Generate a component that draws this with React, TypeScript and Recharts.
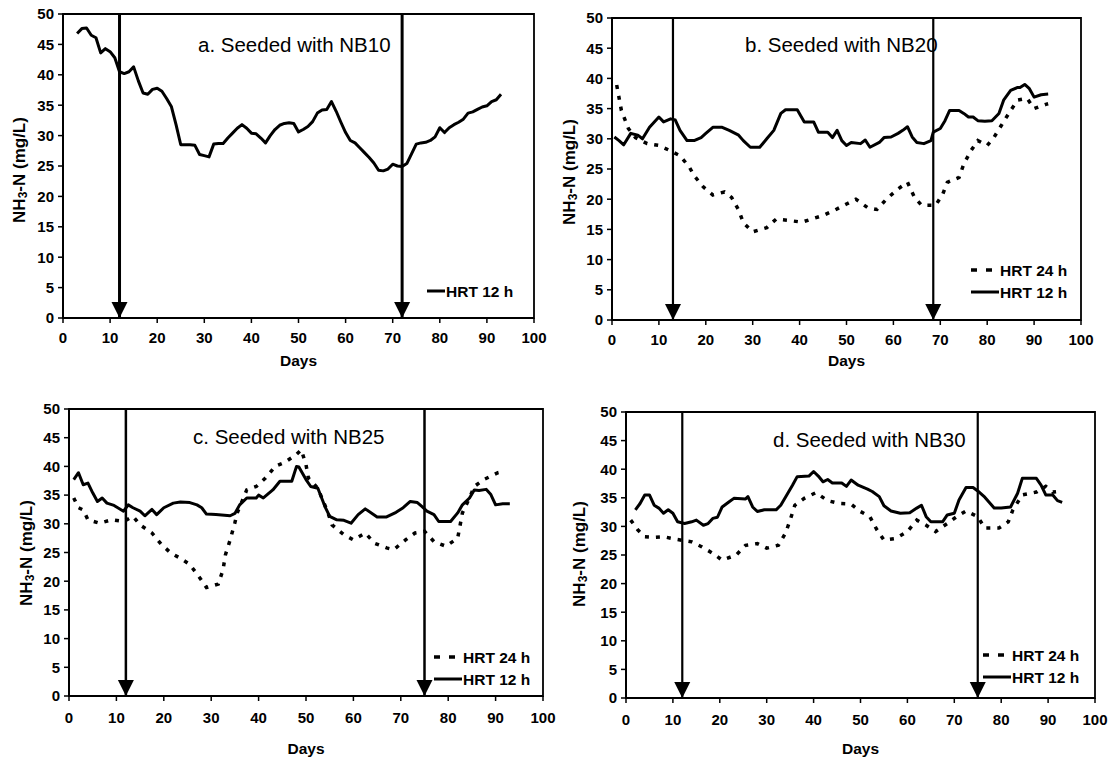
import React from "react";
import { LineChart, Line, XAxis, YAxis, ReferenceLine, ReferenceDot, ReferenceArea } from "recharts";

type Pt = [number, number];

const dayTicks = [0, 10, 20, 30, 40, 50, 60, 70, 80, 90, 100];
const nh3Ticks = [0, 5, 10, 15, 20, 25, 30, 35, 40, 45, 50];

// a. NB10, HRT 12 h only
const nb10Hrt12: Pt[] = [
  [3, 46.8], [4, 47.6], [5, 47.7], [6, 46.5], [7, 46.1], [8, 43.6], [9, 44.3], [10, 43.8],
  [11, 42.8], [12, 40.5], [13, 40.2], [14, 40.5], [15, 41.3], [16, 39], [17, 37], [18, 36.8],
  [19, 37.6], [20, 37.8], [21, 37.3], [22, 36.1], [23, 34.8], [24, 31.8], [25, 28.5], [26, 28.5],
  [27, 28.5], [28, 28.4], [29, 26.9], [30, 26.7], [31, 26.5], [32, 28.6], [33, 28.7], [34, 28.7],
  [35, 29.6], [36, 30.4], [37, 31.2], [38, 31.8], [39, 31.2], [40, 30.4], [41, 30.3], [42, 29.6],
  [43, 28.8], [44, 30], [45, 31], [46, 31.7], [47, 32], [48, 32.1], [49, 32], [50, 30.6],
  [51, 31], [52, 31.5], [53, 32.3], [54, 33.7], [55, 34.2], [56, 34.3], [57, 35.6], [58, 34],
  [59, 32.2], [60, 30.5], [61, 29.2], [62, 28.8], [63, 28], [64, 27.2], [65, 26.4], [66, 25.5],
  [67, 24.3], [68, 24.2], [69, 24.5], [70, 25.3], [71, 25], [72, 24.9], [73, 25.4], [74, 27],
  [75, 28.6], [76, 28.8], [77, 28.9], [78, 29.2], [79, 29.8], [80, 31.3], [81, 30.5], [82, 31.3],
  [83, 31.8], [84, 32.2], [85, 32.7], [86, 33.7], [87, 33.9], [88, 34.3], [89, 34.7], [90, 34.9],
  [91, 35.6], [92, 35.9], [93, 36.8],
];

// b. NB20
const nb20Hrt24: Pt[] = [
  [1, 38.9], [2, 34.7], [3.5, 31.7], [5, 30.2], [7.5, 29.2], [10, 28.9], [12.5, 28], [14.5, 27.2],
  [16.5, 25.3], [17.5, 23.9], [19.5, 22], [21.5, 20.7], [24, 21.2], [25.5, 20.3], [27, 18.2], [28, 16.1],
  [30, 14.6], [33, 15.3], [35, 16.7], [37.5, 16.5], [40.5, 16.2], [42.5, 16.7], [45, 17.3], [47.5, 18.2],
  [50, 19.2], [52, 20], [54.5, 18.6], [56.5, 18.3], [58.5, 20], [61, 21.7], [63, 22.8], [64.5, 20.3],
  [66, 19], [69, 19], [70.5, 20.8], [71.5, 22.8], [74, 23.6], [75, 25.8], [76.5, 28], [78, 29.7],
  [80, 28.9], [81.5, 30.3], [83, 32.2], [85, 34.7], [86.5, 36.4], [88.5, 36.7], [90, 35], [92.5, 35.7],
  [93, 35.8],
];
const nb20Hrt12: Pt[] = [
  [0.5, 30.3], [1.5, 29.7], [2.5, 29], [4, 30.9], [5.5, 30.6], [6.5, 30], [8, 31.9], [10, 33.6],
  [11, 32.8], [12.5, 33.3], [13.5, 33.1], [14.5, 31.4], [16, 29.7], [17.5, 29.7], [19, 30.2], [20, 30.9],
  [21.5, 31.9], [23.5, 31.9], [25, 31.4], [27, 30.6], [28, 29.7], [29.5, 28.6], [31.5, 28.6], [33, 30],
  [34.5, 31.4], [36, 34.2], [37, 34.8], [39.5, 34.8], [41, 32.8], [43, 32.8], [44, 31.1], [46, 31.1],
  [47, 30.2], [48, 31.4], [49, 29.7], [50, 28.9], [51, 29.4], [53, 29.2], [54, 29.8], [55, 28.6],
  [57, 29.4], [58, 30.2], [59.5, 30.3], [61, 30.9], [62, 31.4], [63, 32], [64, 30.3], [65, 29.4],
  [66.5, 29.2], [68, 29.7], [68.5, 31.1], [70, 31.7], [71, 33], [72, 34.7], [74, 34.7], [75, 34.2],
  [76, 33.6], [77, 33.6], [78, 33], [79.5, 32.9], [81, 33], [82.5, 34.2], [83.5, 36.4], [85, 38],
  [86.5, 38.5], [87, 38.5], [88, 39], [89, 38.3], [90, 36.9], [91.5, 37.3], [93, 37.4],
];

// c. NB25
const nb25Hrt24: Pt[] = [
  [1, 34.5], [2, 32.8], [3, 32.4], [4, 30.7], [6.5, 30.1], [9, 30.7], [11.5, 30.4], [13.5, 31.3],
  [15, 29.8], [17.5, 28.4], [19.5, 26.4], [21.5, 24.9], [23.5, 24], [25.5, 22.9], [27.5, 20.7], [29, 18.9],
  [31.5, 19.5], [32.5, 22], [33, 24.6], [34, 27.2], [35, 30.2], [35.5, 31.9], [37.5, 35.9], [39.5, 36.5],
  [41.5, 38], [43.5, 40], [45.5, 40.7], [48, 42.1], [49, 42.9], [50, 40.3], [50.5, 38], [52.5, 36.2],
  [54.5, 32.2], [55.5, 29.8], [58, 28.1], [60, 27.2], [62.5, 28.4], [64.5, 26.6], [67, 25.8], [68.5, 25.5],
  [71, 27.2], [73, 28.4], [75, 28.7], [77, 26.9], [79.5, 26.1], [82, 27.5], [83, 31.9], [84.5, 34.5],
  [85.5, 36.5], [87.5, 37.7], [90.5, 38.9], [91, 39],
];
const nb25Hrt12: Pt[] = [
  [1, 37.7], [2, 38.9], [3, 36.8], [4, 37.1], [5, 35.4], [6, 33.9], [7, 34.5], [8, 33.6],
  [9.5, 33.2], [11.5, 32.2], [12.5, 33.3], [13.5, 32.8], [15, 32.2], [16, 31.4], [17.5, 32.5], [18.5, 31.6],
  [20, 32.8], [22, 33.6], [23.5, 33.8], [25.5, 33.7], [27, 33.3], [28, 32.8], [29, 31.7], [31, 31.6],
  [34, 31.4], [35, 31.8], [36, 33.3], [37.5, 34.5], [39.5, 34.5], [40, 35], [41, 34.5], [43, 35.9],
  [44.5, 37.4], [47, 37.4], [48, 40], [48.5, 39.9], [50, 37.7], [51, 36.5], [52.5, 36.2], [54, 33],
  [55, 31.3], [56.5, 30.7], [58, 30.6], [59.5, 30.1], [61, 31.6], [62.5, 32.6], [65, 31.2], [67, 31.2],
  [69, 32], [70.5, 32.8], [72, 33.9], [73.5, 33.7], [74.5, 33], [75.5, 32.2], [77, 31.6], [78, 30.4],
  [80.5, 30.4], [82, 31.9], [83, 33.3], [84.5, 34.5], [85.5, 35.9], [86.5, 35.8], [88, 36], [89, 35.1],
  [90, 33.3], [91.5, 33.5], [93, 33.5],
];

// d. NB30
const nb30Hrt24: Pt[] = [
  [1, 31.1], [2.5, 29.4], [4, 28.2], [6, 28.1], [8, 28.2], [11, 27.7], [14, 27.3], [16, 26.5],
  [18.5, 25.3], [20.5, 24.1], [23.5, 25], [25.5, 26.7], [28, 27], [30, 26.2], [32.5, 26.7], [34, 28.8],
  [35, 31.1], [36, 33.7], [38, 34.9], [40.5, 35.9], [43, 34.5], [45.5, 34], [48, 33.9], [50, 32.6],
  [52, 31.7], [53.5, 29.4], [55, 27.6], [57.5, 27.9], [60, 29.1], [62, 31.1], [64, 30.2], [66, 29.1],
  [68.5, 30.5], [70.5, 31.7], [72.5, 32.7], [75, 31.7], [76.5, 29.7], [79.5, 29.7], [81.5, 30.8], [82.5, 32.9],
  [84.5, 35.5], [87.5, 36], [89.5, 37], [91, 36], [93, 36.2],
];
const nb30Hrt12: Pt[] = [
  [2, 32.9], [3, 34], [4, 35.5], [5, 35.5], [6, 33.7], [7, 33.2], [8, 32.3], [9, 32.9],
  [10, 32.3], [11, 30.8], [12.5, 30.5], [14, 30.8], [15, 31.1], [16.5, 30.2], [17.5, 30.5], [18.5, 31.4],
  [19.5, 31.6], [20.5, 33.4], [22, 34.3], [23, 34.9], [25.5, 34.8], [26, 35.2], [27, 33.4], [28, 32.6],
  [29.5, 32.9], [32, 32.9], [33, 33.7], [34.5, 35.8], [35.5, 37.2], [36.5, 38.7], [39, 38.8], [40, 39.6],
  [41, 38.8], [42, 37.8], [43, 38.2], [44, 37.6], [46, 37.6], [47, 37], [48, 38.1], [49.5, 37.2],
  [51.5, 36.5], [52.5, 36.1], [54, 35.2], [55, 33.6], [56.5, 32.7], [58.5, 32.3], [60.5, 32.4], [62, 33.2],
  [63, 33.7], [64, 31.7], [65, 30.8], [67.5, 30.8], [68.5, 32], [70, 32.3], [71, 34.6], [72.5, 36.8],
  [74, 36.8], [75, 36.2], [76.5, 35.1], [78.5, 33.2], [80, 33.2], [82, 33.4], [83.5, 35.8], [84.5, 38.4],
  [87.5, 38.4], [88.5, 37.2], [89.5, 35.5], [91, 35.5], [92, 34.5], [93, 34.2],
];

// days when the seeding changed (arrows)
const nb10Arrows = [12, 72];
const nb20Arrows = [13, 68.5];
const nb25Arrows = [12, 75];
const nb30Arrows = [12, 75];

const FONT = "'Liberation Sans', Arial, Helvetica, sans-serif";

const toRows = (pts: Pt[]) => pts.map(([day, v]) => ({ day, v }));

function ArrowHead(props: any) {
  const { cx, cy } = props;
  if (cx == null || cy == null) return null;
  return <polygon points={`${cx - 8},${cy - 16} ${cx + 8},${cy - 16} ${cx},${cy}`} fill="#000" />;
}

type Rect = { l: number; t: number; r: number; b: number };

interface PanelProps {
  plot: Rect;
  title: string;
  titleX: number;
  titleY: number;
  solid: Pt[];
  dotted?: Pt[];
  arrows: number[];
  arrowWidth: number;
  legendX: number;
  legendY: number;
  ylabelX: number;
  ylabelY: number;
  daysY: number;
  tickGap: number;
}

function Panel(p: PanelProps) {
  const { plot } = p;
  const padL = 60, padT = 20, padR = 25, padB = 60;
  const w = plot.r - plot.l + padL + padR;
  const h = plot.b - plot.t + padT + padB;
  const tickStyle = { fill: "#000", fontSize: 15, fontWeight: "bold" as const, fontFamily: FONT };
  return (
    <>
      <div style={{ position: "absolute", left: plot.l - padL, top: plot.t - padT }}>
        <LineChart width={w} height={h} margin={{ top: padT, right: padR, left: 0, bottom: 0 }}>
          <XAxis
            dataKey="day"
            type="number"
            domain={[0, 100]}
            ticks={dayTicks}
            allowDuplicatedCategory={false}
            height={padB}
            tickSize={5}
            tickMargin={p.tickGap}
            tick={tickStyle}
            axisLine={{ stroke: "#000", strokeWidth: 2 }}
            tickLine={{ stroke: "#000", strokeWidth: 1.5 }}
          />
          <YAxis
            type="number"
            domain={[0, 50]}
            ticks={nh3Ticks}
            width={padL}
            tickSize={5}
            tickMargin={4}
            tick={tickStyle}
            axisLine={{ stroke: "#000", strokeWidth: 2 }}
            tickLine={{ stroke: "#000", strokeWidth: 1.5 }}
          />
          <ReferenceArea x1={0} x2={100} y1={0} y2={50} fill="none" stroke="#000" strokeWidth={1.8} />
          {p.arrows.map((d) => (
            <ReferenceLine key={`l${d}`} x={d} stroke="#000" strokeWidth={p.arrowWidth} />
          ))}
          {p.dotted && (
            <Line
              data={toRows(p.dotted)}
              dataKey="v"
              type="linear"
              stroke="#000"
              strokeWidth={3.5}
              strokeDasharray="4 7"
              dot={false}
              isAnimationActive={false}
            />
          )}
          <Line
            data={toRows(p.solid)}
            dataKey="v"
            type="linear"
            stroke="#000"
            strokeWidth={3}
            strokeLinejoin="round"
            dot={false}
            isAnimationActive={false}
          />
          {p.arrows.map((d) => (
            <ReferenceDot key={`h${d}`} x={d} y={0} r={0} ifOverflow="visible" shape={ArrowHead} />
          ))}
        </LineChart>
      </div>
      <svg
        width={1112}
        height={758}
        style={{ position: "absolute", left: 0, top: 0, pointerEvents: "none", overflow: "visible" }}
      >
        <g fontFamily={FONT} fill="#000">
          <text x={p.titleX} y={p.titleY + 7} fontSize={20.5}>
            {p.title}
          </text>
          <text x={(plot.l + plot.r) / 2} y={p.daysY + 5} fontSize={15.5} fontWeight="bold" textAnchor="middle">
            Days
          </text>
          <text
            x={p.ylabelX}
            y={p.ylabelY}
            fontSize={17}
            fontWeight="bold"
            textAnchor="middle"
            dominantBaseline="central"
            transform={`rotate(-90 ${p.ylabelX} ${p.ylabelY})`}
          >
            NH
            <tspan fontSize={12} dy={4}>
              3
            </tspan>
            <tspan dy={-4}>-N (mg/L)</tspan>
          </text>
          {p.dotted ? (
            <>
              <line x1={p.legendX} x2={p.legendX + 27} y1={p.legendY - 11} y2={p.legendY - 11} stroke="#000" strokeWidth={3.5} strokeDasharray="6 9" />
              <text x={p.legendX + 29} y={p.legendY - 11 + 5.5} fontSize={15.5} fontWeight="bold">
                HRT 24 h
              </text>
              <line x1={p.legendX} x2={p.legendX + 28} y1={p.legendY + 11} y2={p.legendY + 11} stroke="#000" strokeWidth={3} />
              <text x={p.legendX + 29} y={p.legendY + 11 + 5.5} fontSize={15.5} fontWeight="bold">
                HRT 12 h
              </text>
            </>
          ) : (
            <>
              <line x1={p.legendX + 10} x2={p.legendX + 28} y1={p.legendY} y2={p.legendY} stroke="#000" strokeWidth={3} />
              <text x={p.legendX + 29} y={p.legendY + 5.5} fontSize={15.5} fontWeight="bold">
                HRT 12 h
              </text>
            </>
          )}
        </g>
      </svg>
    </>
  );
}

export default function App() {
  return (
    <div style={{ position: "absolute", left: 0, top: 0, width: 1112, height: 758, background: "#fff", overflow: "hidden" }}>
      <Panel
        plot={{ l: 63, t: 14, r: 534, b: 318 }}
        title="a. Seeded with NB10"
        titleX={198}
        titleY={45}
        solid={nb10Hrt12}
        arrows={nb10Arrows}
        arrowWidth={3}
        legendX={417}
        legendY={291}
        ylabelX={19}
        ylabelY={170}
        daysY={361}
        tickGap={9}
      />
      <Panel
        plot={{ l: 612, t: 18, r: 1081, b: 320 }}
        title="b. Seeded with NB20"
        titleX={745}
        titleY={45}
        solid={nb20Hrt12}
        dotted={nb20Hrt24}
        arrows={nb20Arrows}
        arrowWidth={2.2}
        legendX={971}
        legendY={281}
        ylabelX={569}
        ylabelY={172}
        daysY={361}
        tickGap={9}
      />
      <Panel
        plot={{ l: 69, t: 409, r: 543, b: 696 }}
        title="c. Seeded with NB25"
        titleX={193}
        titleY={437}
        solid={nb25Hrt12}
        dotted={nb25Hrt24}
        arrows={nb25Arrows}
        arrowWidth={2.5}
        legendX={434}
        legendY={668}
        ylabelX={26}
        ylabelY={553}
        daysY={749}
        tickGap={11}
      />
      <Panel
        plot={{ l: 626, t: 412, r: 1095, b: 698 }}
        title="d. Seeded with NB30"
        titleX={773}
        titleY={440}
        solid={nb30Hrt12}
        dotted={nb30Hrt24}
        arrows={nb30Arrows}
        arrowWidth={2.2}
        legendX={983}
        legendY={666}
        ylabelX={579}
        ylabelY={554}
        daysY={749}
        tickGap={11}
      />
    </div>
  );
}
